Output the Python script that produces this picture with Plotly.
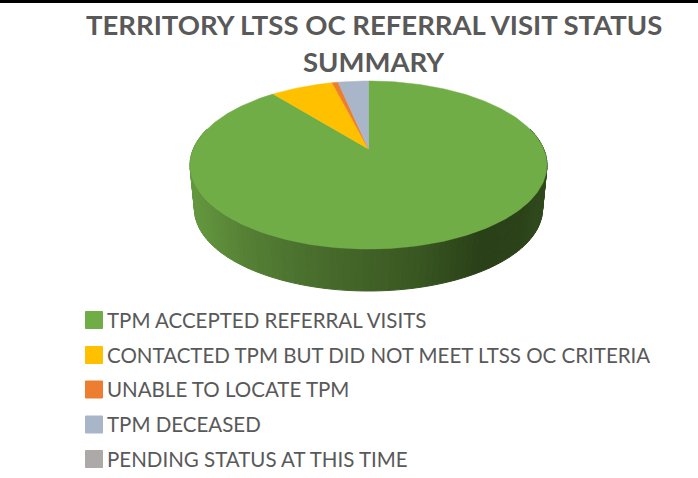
import math
import plotly.graph_objects as go

categories = [
    "TPM ACCEPTED REFERRAL VISITS",
    "CONTACTED TPM BUT DID NOT MEET LTSS OC CRITERIA",
    "UNABLE TO LOCATE TPM",
    "TPM DECEASED",
    "PENDING STATUS AT THIS TIME",
]
values = [89.25, 6.8, 0.65, 3.3, 0.0]
colors = ["#70AD47", "#FFC000", "#ED7D31", "#A9B5C8", "#ADA9A8"]
title_lines = ["TERRITORY LTSS OC REFERRAL VISIT STATUS", "SUMMARY"]

W, H = 698, 478
TEXT = "#595959"
FONT = "Lato"

# perspective projection of the pie disc
APEX_X, APEX_Y = 368.5, 149.0
C, A, D = 32 / 168, 68 * (1 + 32 / 168), 175.2
DEPTH = 44.5
BOTTOM_SCALE = 0.975


def top(theta):
    u, v = math.sin(theta), math.cos(theta)
    w = 1 + C * v
    return APEX_X + D * u / w, APEX_Y - A * v / w


def bottom(theta):
    x, y = top(theta)
    return APEX_X + (x - APEX_X) * BOTTOM_SCALE, APEX_Y + (y - APEX_Y) * BOTTOM_SCALE + DEPTH


def wall_color(x):
    stops = [(190, (100, 152, 63)), (250, (84, 126, 52)), (320, (72, 108, 44)),
             (420, (56, 86, 33)), (480, (42, 64, 24)), (520, (43, 66, 25)), (547, (48, 74, 28))]
    for (x0, c0), (x1, c1) in zip(stops, stops[1:]):
        if x <= x1:
            t = max(0.0, (x - x0) / (x1 - x0))
            return "rgb(%d,%d,%d)" % tuple(round(a + (b - a) * t) for a, b in zip(c0, c1))
    return "rgb(48,74,28)"


fig = go.Figure()

# side wall, drawn as narrow strips so the shading runs across it
N = 120
start = math.radians(75)
end = math.radians(285)
for i in range(N):
    t0 = start + (end - start) * i / N
    t1 = start + (end - start) * (i + 1) / N
    p = [top(t0), top(t1), bottom(t1), bottom(t0), top(t0)]
    col = wall_color((p[0][0] + p[1][0]) / 2)
    fig.add_trace(go.Scatter(
        x=[q[0] for q in p], y=[q[1] for q in p], mode="lines", fill="toself",
        fillcolor=col, line=dict(color=col, width=1), hoverinfo="skip", showlegend=False))

# top faces of the slices
total = sum(values)
acc = 0.0
for name, val, col in zip(categories, values, colors):
    a0 = 2 * math.pi * acc / total
    a1 = 2 * math.pi * (acc + val) / total
    acc += val
    if val <= 0:
        continue
    steps = max(2, int(val * 4))
    rim = [top(a0 + (a1 - a0) * k / steps) for k in range(steps + 1)]
    xs = [APEX_X] + [q[0] for q in rim] + [APEX_X]
    ys = [APEX_Y] + [q[1] for q in rim] + [APEX_Y]
    fig.add_trace(go.Scatter(
        x=xs, y=ys, mode="lines", fill="toself", fillcolor=col,
        line=dict(color=col, width=0.5), name=name, hoverinfo="name", showlegend=False))

# legend
leg_y = [320, 355, 389.5, 424.5, 459]
fig.add_trace(go.Scatter(
    x=[94] * len(categories), y=leg_y, mode="markers",
    marker=dict(symbol="square", size=17, color=colors, line=dict(color=colors, width=1)),
    hoverinfo="skip", showlegend=False))

annotations = [
    dict(x=107, y=y - 0.5, text=c, xref="x", yref="y", xanchor="left", yanchor="middle",
         showarrow=False, xshift=-2, font=dict(family=FONT, size=20.5, color=TEXT))
    for c, y in zip(categories, leg_y)
]
for line, y in zip(title_lines, [24, 61]):
    annotations.append(dict(x=373.5, y=y, text=line, xref="x", yref="y", xanchor="center",
                            yanchor="middle", showarrow=False,
                            font=dict(family=FONT, size=27.5, color=TEXT, weight="bold")))

fig.update_layout(
    width=W, height=H, margin=dict(l=0, r=0, t=0, b=0, pad=0),
    paper_bgcolor="white", plot_bgcolor="white", showlegend=False,
    xaxis=dict(range=[0, W], visible=False, fixedrange=True),
    yaxis=dict(range=[H, 0], visible=False, fixedrange=True),
    annotations=annotations,
    shapes=[dict(type="rect", xref="x", yref="y", x0=0, x1=W, y0=0, y1=3,
                 fillcolor="black", line=dict(width=0))],
)
fig.write_html("out.html", config={"displayModeBar": False, "responsive": False},
               post_script="document.body.style.margin='0';document.body.style.overflow='hidden';")
